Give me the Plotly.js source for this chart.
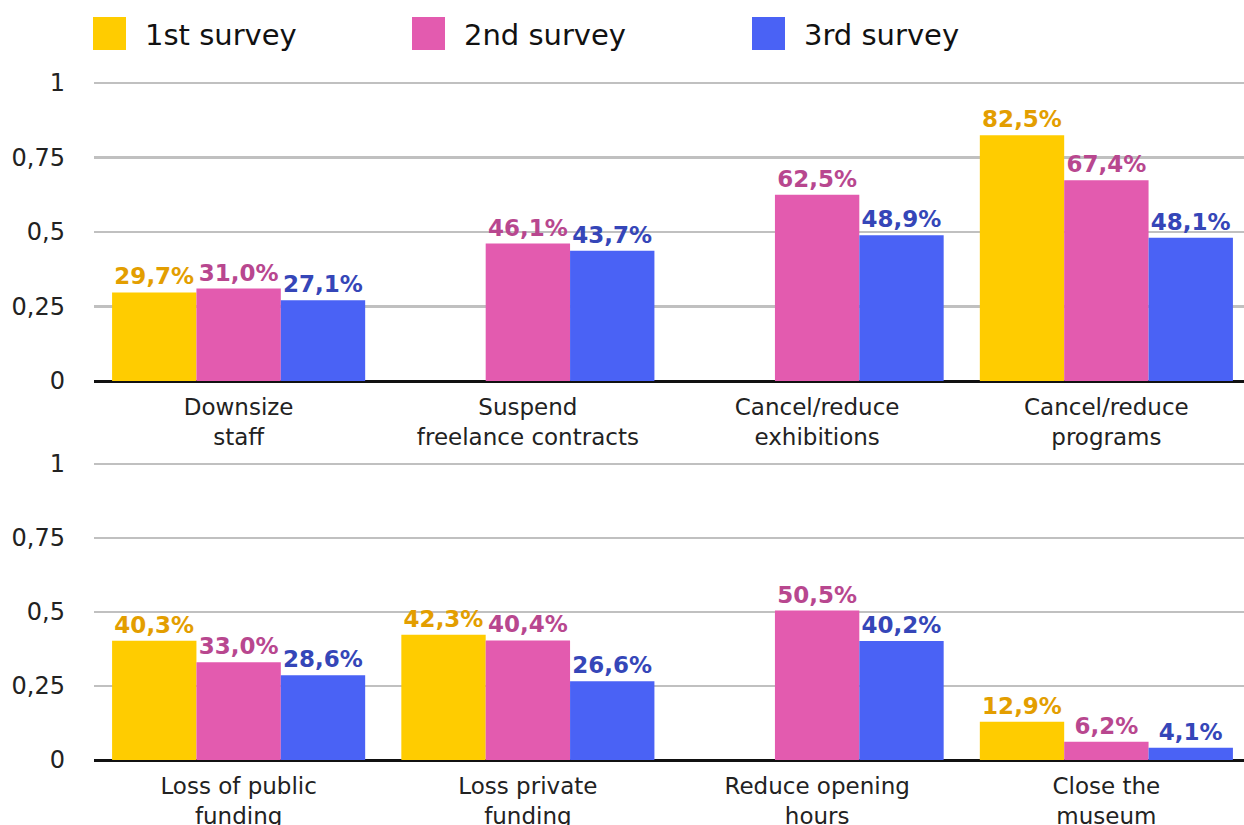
<!DOCTYPE html>
<html><head><meta charset="utf-8">
<script src="https://cdn.plot.ly/plotly-3.0.1.min.js"></script>
<style>html,body{margin:0;padding:0;overflow:hidden;background:#fff}</style>
</head><body>
<div id="chart" style="width:1251px;height:825px"></div>
<script>
const seriesNames = ['1st survey', '2nd survey', '3rd survey'];
const topCategories = ['Downsize<br>staff', 'Suspend<br>freelance contracts', 'Cancel/reduce<br>exhibitions', 'Cancel/reduce<br>programs'];
const bottomCategories = ['Loss of public<br>funding', 'Loss private<br>funding', 'Reduce opening<br>hours', 'Close the<br>museum'];
const top1 = [0.297, null, null, 0.825];
const top2 = [0.310, 0.461, 0.625, 0.674];
const top3 = [0.271, 0.437, 0.489, 0.481];
const bot1 = [0.403, 0.423, null, 0.129];
const bot2 = [0.330, 0.404, 0.505, 0.062];
const bot3 = [0.286, 0.266, 0.402, 0.041];
const yTickVals = [0, 0.25, 0.5, 0.75, 1];

const barColors = ['#FFCC00', '#E35BAF', '#4A62F5'];
const labelColors = ['#E39E00', '#B8478F', '#3546B8'];
const FONT = 'DejaVu Sans';

const W = 1251, H = 825, L = 94;
const px = x => (x - L) / (W - L);
const py = y => (H - y) / H;
const YMAX = 1.01;

const traces = [];
[[top1, top2, top3], [bot1, bot2, bot3]].forEach((set, p) => {
  const cats = p === 0 ? topCategories : bottomCategories;
  set.forEach((vals, i) => {
    traces.push({
      type: 'bar',
      name: seriesNames[i],
      x: cats,
      y: vals,
      xaxis: p === 0 ? 'x' : 'x2',
      yaxis: p === 0 ? 'y' : 'y2',
      marker: {color: barColors[i]},
      texttemplate: '%{y:.1%}',
      textposition: 'outside',
      constraintext: 'none',
      cliponaxis: false,
      textfont: {family: FONT, size: 23, weight: 'bold', color: labelColors[i]},
      showlegend: false,
      hoverinfo: 'skip'
    });
  });
});

const xBase = {
  showgrid: false, ticks: '', showline: false, zeroline: false,
  ticklabelstandoff: 10,
  tickfont: {family: FONT, size: 23, color: '#222'}, fixedrange: true
};
const yBase = {
  range: [0, YMAX], tickvals: yTickVals, showgrid: true, gridcolor: '#c0c0c0', gridwidth: 2.5,
  zeroline: true, zerolinecolor: '#111', zerolinewidth: 3, ticks: '',
  ticklabelstandoff: 28,
  tickfont: {family: FONT, size: 24, color: '#222'}, fixedrange: true
};

// zeroPx: pixel row of value 0, onePx: pixel row of value 1
function dom(zeroPx, onePx) {
  const topPx = onePx - (zeroPx - onePx) * (YMAX - 1);
  return [py(zeroPx), py(topPx)];
}

const shapes = [], annotations = [];
const legX = [93, 412, 752];
seriesNames.forEach((n, i) => {
  shapes.push({type: 'rect', xref: 'paper', yref: 'paper',
    x0: px(legX[i]), x1: px(legX[i] + 33), y0: py(50), y1: py(17),
    fillcolor: barColors[i], line: {width: 0}});
  annotations.push({xref: 'paper', yref: 'paper', x: px(legX[i] + 50), y: py(35),
    xanchor: 'left', yanchor: 'middle', showarrow: false, text: n,
    font: {family: FONT, size: 29, color: '#111'}});
});

const layout = {
  width: W, height: H,
  margin: {l: L, r: 0, t: 0, b: 0},
  paper_bgcolor: '#fff', plot_bgcolor: '#fff',
  separators: ',.',
  barmode: 'group', bargap: 0.125, bargroupgap: 0,
  showlegend: false,
  xaxis: Object.assign({}, xBase, {anchor: 'y', domain: [0, 1]}),
  xaxis2: Object.assign({}, xBase, {anchor: 'y2', domain: [0, 1]}),
  yaxis: Object.assign({}, yBase, {anchor: 'x', domain: dom(381, 83)}),
  yaxis2: Object.assign({}, yBase, {anchor: 'x2', domain: dom(760, 464)}),
  shapes: shapes,
  annotations: annotations
};

Plotly.newPlot('chart', traces, layout, {displayModeBar: false, staticPlot: true});
</script>
</body></html>
